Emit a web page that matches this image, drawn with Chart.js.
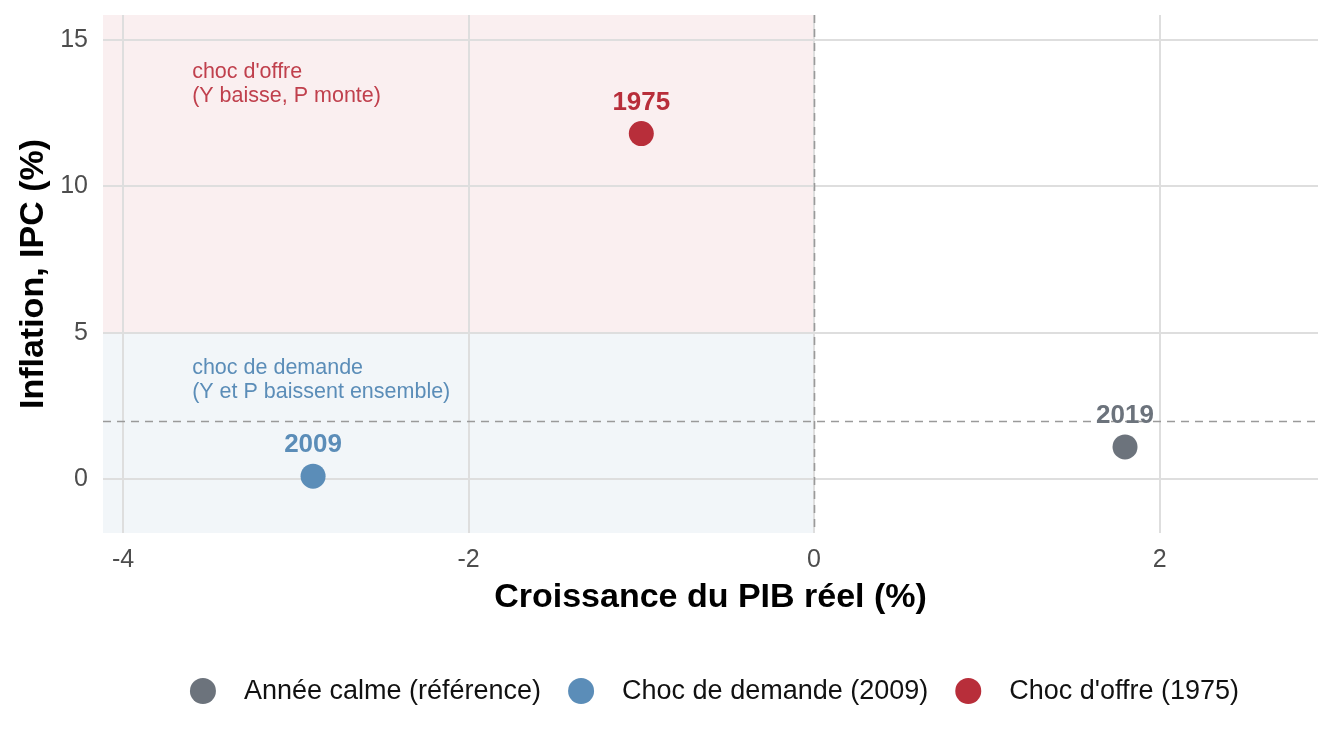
<!DOCTYPE html>
<html>
<head>
<meta charset="utf-8">
<script src="https://cdn.jsdelivr.net/npm/chart.js@4"></script>
<style>
  html, body { margin: 0; padding: 0; background: #fff; }
  #wrap { width: 1344px; height: 748px; }
</style>
</head>
<body>
<div id="wrap"><canvas id="myChart" width="1344" height="748"></canvas></div>
<script>
// donnees du graphique
const categories = ['Année calme (référence)', 'Choc de demande (2009)', "Choc d'offre (1975)"];
const years = ['2019', '2009', '1975'];
const gdpGrowth = [1.8, -2.9, -1.0];
const inflation = [1.1, 0.1, 11.8];
const seriesColors = ['#6c737c', '#5b8db8', '#b82e3a'];
const xTicks = [-4, -2, 0, 2];
const yTicks = [0, 5, 10, 15];
const zoneTitles = [["choc d'offre", '(Y baisse, P monte)'], ['choc de demande', '(Y et P baissent ensemble)']];
const inflationCut = 5;   // frontiere entre les deux zones
const inflationRef = 2;   // cible d'inflation (ligne pointillee)

const FONT = "'Liberation Sans', Arial, sans-serif";

// zones colorees sous la grille
const zonesPlugin = {
    id: 'zones',
    beforeDraw(chart) {
        const {ctx, chartArea: a, scales: {x, y}} = chart;
        const x0 = x.getPixelForValue(0);
        const yc = y.getPixelForValue(inflationCut);
        ctx.save();
        ctx.fillStyle = 'rgba(184,46,58,0.075)';
        ctx.fillRect(a.left, a.top, x0 - a.left, yc - a.top);
        ctx.fillStyle = 'rgba(91,141,184,0.08)';
        ctx.fillRect(a.left, yc, x0 - a.left, a.bottom - yc);
        ctx.restore();
    },
    beforeDatasetsDraw(chart) {
        const {ctx, chartArea: a, scales: {x, y}} = chart;
        const x0 = Math.round(x.getPixelForValue(0)) + 0.5;
        const yr = Math.round(y.getPixelForValue(inflationRef)) + 0.5;
        ctx.save();
        ctx.strokeStyle = '#9a9a9a';
        ctx.lineWidth = 1.6;
        ctx.setLineDash([8, 6]);
        ctx.beginPath();
        ctx.moveTo(a.left, yr); ctx.lineTo(a.right, yr);
        ctx.moveTo(x0, a.top); ctx.lineTo(x0, a.bottom);
        ctx.stroke();
        ctx.setLineDash([]);

        // textes des zones
        ctx.font = '21.5px ' + FONT;
        ctx.textAlign = 'left';
        ctx.textBaseline = 'middle';
        const tx = x.getPixelForValue(-3.6);
        const tops = [13.9, 3.79];
        const cols = ['#c0404d', '#5b8db8'];
        zoneTitles.forEach((lines, i) => {
            const ty = y.getPixelForValue(tops[i]);
            ctx.fillStyle = cols[i];
            lines.forEach((t, j) => ctx.fillText(t, tx, ty + j * 24));
        });
        ctx.restore();
    },
    afterDatasetsDraw(chart) {
        const {ctx} = chart;
        ctx.save();
        ctx.font = 'bold 26px ' + FONT;
        ctx.textAlign = 'center';
        ctx.textBaseline = 'middle';
        chart.data.datasets.forEach((ds, i) => {
            const pt = chart.getDatasetMeta(i).data[0];
            ctx.fillStyle = seriesColors[i];
            ctx.fillText(years[i], pt.x, pt.y - 31);
        });
        ctx.restore();
    },
    afterDraw(chart) {
        // legende en bas
        const {ctx} = chart;
        ctx.save();
        ctx.font = '27px ' + FONT;
        ctx.textBaseline = 'middle';
        ctx.textAlign = 'left';
        const r = 13, gap = 28, between = 27;
        const widths = categories.map(c => ctx.measureText(c).width);
        const total = widths.reduce((s, w) => s + 2 * r + gap + w, 0) + between * (categories.length - 1);
        const a = chart.chartArea;
        let cx = (a.left + a.right) / 2 + 4 - total / 2;
        const cy = 691;
        categories.forEach((c, i) => {
            ctx.fillStyle = seriesColors[i];
            ctx.beginPath();
            ctx.arc(cx + r, cy, r, 0, Math.PI * 2);
            ctx.fill();
            ctx.fillStyle = '#111';
            ctx.fillText(c, cx + 2 * r + gap, cy + 1);
            cx += 2 * r + gap + widths[i] + between;
        });
        ctx.restore();
    }
};

const ctx = document.getElementById('myChart').getContext('2d');

const myChart = new Chart(ctx, {
    type: 'scatter',
    data: {
        datasets: categories.map((c, i) => ({
            label: c,
            data: [{x: gdpGrowth[i], y: inflation[i]}],
            backgroundColor: seriesColors[i],
            borderWidth: 0,
            pointRadius: 12.5,
            pointHoverRadius: 12.5
        }))
    },
    options: {
        responsive: false,
        animation: false,
        devicePixelRatio: 1,
        layout: {padding: {left: 0, right: 26, top: 15, bottom: 115}},
        plugins: {
            legend: {display: false},
            tooltip: {enabled: false}
        },
        scales: {
            x: {
                type: 'linear',
                min: -4.116,
                max: 2.917,
                afterBuildTicks: s => { s.ticks = xTicks.map(v => ({value: v})); },
                afterFit: s => { s.height = 100; s.paddingLeft = 0; s.paddingRight = 0; },
                grid: {color: '#dedede', lineWidth: 2, drawTicks: false},
                border: {display: false},
                ticks: {color: '#4d4d4d', font: {family: FONT, size: 25}, padding: 12},
                title: {
                    display: true,
                    text: 'Croissance du PIB réel (%)',
                    color: '#000',
                    font: {family: FONT, size: 34, weight: 'bold'},
                    padding: {top: 0, bottom: 15}
                }
            },
            y: {
                type: 'linear',
                min: -1.84,
                max: 15.85,
                afterBuildTicks: s => { s.ticks = yTicks.map(v => ({value: v})); },
                afterFit: s => { s.width = 103; s.paddingTop = 0; s.paddingBottom = 0; },
                grid: {color: '#dedede', lineWidth: 2, drawTicks: false},
                border: {display: false},
                ticks: {color: '#4d4d4d', font: {family: FONT, size: 25}, padding: 15},
                title: {
                    display: true,
                    text: 'Inflation, IPC (%)',
                    color: '#000',
                    font: {family: FONT, size: 34, weight: 'bold'},
                    padding: {top: 13, bottom: 0}
                }
            }
        }
    },
    plugins: [zonesPlugin]
});
</script>
</body>
</html>
